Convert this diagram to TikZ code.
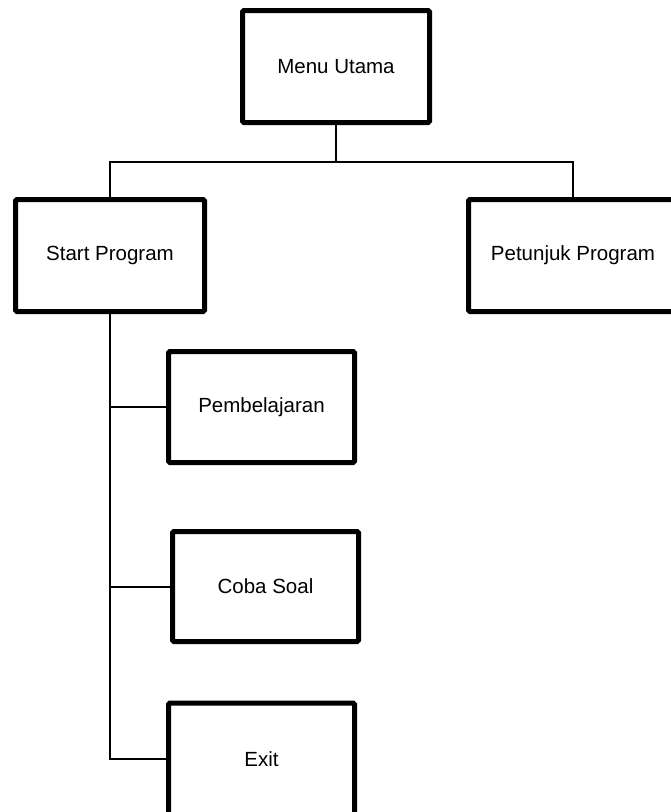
\documentclass[tikz,border=0pt]{standalone}
\usepackage{fontspec}
\setmainfont{Liberation Sans}
\begin{document}
\begin{tikzpicture}[x=1pt,y=-1pt,
		kotak/.style={draw,line width=5pt,rounded corners=1.5pt,inner sep=0pt,
			minimum width=187pt,minimum height=112pt,font=\fontsize{20.5}{24}\selectfont},
		garis/.style={line width=2pt}]
			\useasboundingbox (0,0) rectangle (671,812);

			\node[kotak] (menu)     at (336  , 66.5) {Menu Utama};
			\node[kotak,minimum width=189pt] (start)    at (110  ,255.5) {Start Program};
			\node[kotak,minimum width=209pt] (petunjuk) at (573  ,255.5) {Petunjuk Program};
			\node[kotak,minimum width=186pt,minimum height=111pt] (pemb) at (261.5,407  ) {Pembelajaran};
			\node[kotak,minimum width=186pt,minimum height=110pt] (coba) at (265.5,586.5) {Coba Soal};
			\node[kotak,minimum width=186pt] (exit)     at (261.5,759  ) {Exit};

			\coordinate (cabang) at (336,162);
			\draw[garis] (menu.south) -- (cabang);
			\draw[garis] (cabang) -| (start.north);
			\draw[garis] (cabang) -| (petunjuk.north);
			\draw[garis] (start.south) |- (exit.west);
			\draw[garis] (pemb.west) -- (pemb.west -| start.south);
			\draw[garis] (coba.west) -- (coba.west -| start.south);
		\end{tikzpicture}
\end{document}
